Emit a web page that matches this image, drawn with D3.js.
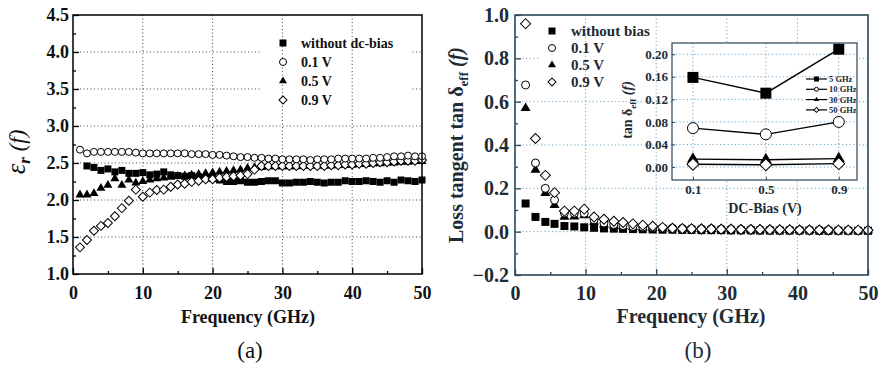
<!DOCTYPE html>
<html>
<head>
<meta charset="utf-8">
<script src="https://cdn.jsdelivr.net/npm/d3@7"></script>
<style>
  body { margin: 0; background: #fff; }
  svg { display: block; }
  text { font-family: "Liberation Serif", "Times New Roman", serif; }
</style>
</head>
<body>
<script>
// ---- data, panel (a): permittivity vs frequency ----
const freqA = [1,2,3,4,5,6,7,8,9,10,11,12,13,14,15,16,17,18,19,20,21,22,23,24,25,
  26,27,28,29,30,31,32,33,34,35,36,37,38,39,40,41,42,43,44,45,46,47,48,49,50]
const epsNoBias = [null,2.46,2.44,2.40,2.42,2.38,2.40,2.36,2.36,2.37,2.34,2.35,2.38,2.34,2.33,2.32,2.33,2.31,2.30,2.29,
  2.27,2.25,2.25,2.26,2.24,2.24,2.25,2.26,2.26,2.23,2.23,2.24,2.24,2.25,2.24,2.23,2.24,2.24,2.26,2.25,
  2.25,2.26,2.25,2.24,2.26,2.24,2.27,2.26,2.25,2.27]
const eps01 = [2.68,2.63,2.65,2.65,2.65,2.65,2.65,2.65,2.64,2.63,2.63,2.63,2.63,2.63,2.63,2.63,2.62,2.62,2.62,2.61,
  2.61,2.60,2.59,2.58,2.58,2.57,2.57,2.56,2.56,2.55,2.55,2.55,2.55,2.54,2.55,2.55,2.55,2.56,2.56,2.56,
  2.56,2.56,2.57,2.57,2.58,2.59,2.59,2.60,2.59,2.59]
const eps05 = [2.07,2.07,2.09,2.16,2.20,2.29,2.20,2.27,2.23,2.25,2.27,2.29,2.30,2.31,2.32,2.33,2.34,2.35,2.36,2.37,
  2.38,2.39,2.40,2.41,2.43,2.44,2.44,2.45,2.45,2.45,2.45,2.45,2.46,2.46,2.46,2.46,2.46,2.47,2.47,2.47,
  2.48,2.48,2.49,2.49,2.50,2.50,2.51,2.51,2.52,2.52]
const eps09 = [1.36,1.46,1.585,1.65,1.69,1.78,1.89,1.99,2.14,2.045,2.10,2.135,2.14,2.18,2.21,2.22,2.245,2.26,2.28,2.28,
  2.30,2.31,2.32,2.33,2.35,2.41,2.46,2.46,2.46,2.46,2.46,2.46,2.46,2.46,2.46,2.46,2.47,2.47,2.48,2.48,
  2.49,2.49,2.50,2.51,2.51,2.52,2.53,2.53,2.53,2.54]
const legendA = ["without dc-bias", "0.1 V", "0.5 V", "0.9 V"]
const ticksAX = [0, 10, 20, 30, 40, 50]
const ticksAY = [1.0, 1.5, 2.0, 2.5, 3.0, 3.5, 4.0, 4.5]

// ---- data, panel (b): loss tangent vs frequency ----
const freqB = [1.5,2.9,4.3,5.6,7.0,8.4,9.8,11.2,12.6,14.0,15.3,16.7,18.1,19.5,20.9,22.3,23.7,25.0,
  26.4,27.8,29.2,30.6,32.0,33.4,34.7,36.1,37.5,38.9,40.3,41.7,43.1,44.4,45.8,47.2,48.6,50.0]
const tanNoBias = [0.130,0.068,0.045,0.036,0.026,0.024,0.020,0.018,0.015,0.014,0.013,0.012,0.011,0.010,0.009,0.009,0.008,0.008,
  0.007,0.007,0.007,0.006,0.006,0.006,0.005,0.005,0.005,0.005,0.005,0.005,0.004,0.004,0.004,0.004,0.004,0.004]
const tan01 = [0.677,0.317,0.200,0.146,0.086,0.085,0.085,0.055,0.040,0.033,0.028,0.024,0.021,0.019,0.017,0.016,0.015,0.014,
  0.013,0.013,0.012,0.011,0.010,0.010,0.009,0.009,0.008,0.008,0.007,0.007,0.007,0.006,0.006,0.006,0.005,0.005]
const tan05 = [0.570,0.285,0.178,0.122,0.068,0.070,0.075,0.045,0.032,0.028,0.024,0.021,0.019,0.017,0.016,0.015,0.014,0.013,
  0.013,0.012,0.011,0.011,0.010,0.010,0.009,0.009,0.008,0.008,0.007,0.007,0.007,0.006,0.006,0.006,0.005,0.005]
const tan09 = [0.960,0.430,0.260,0.180,0.095,0.095,0.104,0.068,0.057,0.048,0.042,0.036,0.030,0.025,0.020,0.016,0.014,0.013,
  0.012,0.012,0.011,0.011,0.010,0.010,0.010,0.009,0.009,0.009,0.008,0.008,0.008,0.008,0.007,0.007,0.007,0.007]
const legendB = ["without bias", "0.1 V", "0.5 V", "0.9 V"]
const ticksBX = [0, 10, 20, 30, 40, 50]
const ticksBY = [-0.2, 0.0, 0.2, 0.4, 0.6, 0.8, 1.0]

// ---- data, inset: loss tangent vs dc bias ----
const biasV = [0.1, 0.5, 0.9]
const tan5G = [0.159, 0.131, 0.209]
const tan10G = [0.069, 0.058, 0.080]
const tan30G = [0.014, 0.013, 0.015]
const tan50G = [0.005, 0.004, 0.006]
const legendIn = ["5 GHz", "10 GHz", "30 GHz", "50 GHz"]
const ticksInY = [0.00, 0.04, 0.08, 0.12, 0.16, 0.20]

const svg = d3.select("body").append("svg")
  .attr("width", 887)
  .attr("height", 366)

// marker shapes, s = width in px
const markerTypes = ["square", "circle", "triangle", "diamond"]
const marker = (sel, type, s) => {
  if (type === "square") {
    sel.append("path").attr("d", d3.symbol(d3.symbolSquare, s * s)())
      .attr("fill", "#000")
  } else if (type === "circle") {
    sel.append("circle").attr("r", s / 2 - 0.5)
      .attr("fill", "#fff").attr("stroke", "#000").attr("stroke-width", 1)
  } else if (type === "triangle") {
    sel.append("path").attr("d", d3.symbol(d3.symbolTriangle, s * s * 0.433)())
      .attr("fill", "#000")
  } else {
    sel.append("path").attr("d", d3.symbol(d3.symbolSquare, s * s / 2)())
      .attr("transform", "rotate(45)")
      .attr("fill", "#fff").attr("stroke", "#000").attr("stroke-width", 1)
  }
}

const drawSeries = (g, xs, ys, x, y, type, s) => {
  xs.forEach((f, i) => {
    if (ys[i] === null) return
    const m = g.append("g").attr("transform", `translate(${x(f)},${y(ys[i])})`)
    marker(m, type, s)
  })
}

// =================== panel (a) ===================
{
  const x = d3.scaleLinear().domain([0, 50]).range([73, 422])
  const y = d3.scaleLinear().domain([1, 4.5]).range([274, 15])
  const g = svg.append("g")
  const gridC = "#444"

  // horizontal grid
  g.selectAll(".hg").data(ticksAY.slice(1, -1)).join("line")
    .attr("x1", 73).attr("x2", 422)
    .attr("y1", d => y(d)).attr("y2", d => y(d))
    .attr("stroke", gridC).attr("stroke-dasharray", "1,2.5")
  // legend background hides horizontal grid
  g.append("rect").attr("x", 262).attr("y", 33).attr("width", 150).attr("height", 76).attr("fill", "#fff")
  // vertical grid
  g.selectAll(".vg").data(ticksAX.slice(1, -1)).join("line")
    .attr("x1", d => x(d)).attr("x2", d => x(d))
    .attr("y1", 15).attr("y2", 274)
    .attr("stroke", gridC).attr("stroke-dasharray", "1,2.5")

  // no-bias first, then the others on top
  drawSeries(g, freqA, epsNoBias, x, y, "square", 7)
  drawSeries(g, freqA, eps05, x, y, "triangle", 9)
  drawSeries(g, freqA, eps09, x, y, "diamond", 9)
  drawSeries(g, freqA, eps01, x, y, "circle", 8)

  // axes
  const ax = g.append("g").attr("transform", "translate(0,274)")
  ax.call(d3.axisBottom(x).tickValues(ticksAX).tickSize(-6).tickPadding(12).tickFormat(d3.format("d")))
  ax.append("g").call(d3.axisBottom(x).tickValues([5, 15, 25, 35, 45]).tickSize(-3).tickFormat(""))
  const ay = g.append("g").attr("transform", "translate(73,0)")
  ay.call(d3.axisLeft(y).tickValues(ticksAY).tickSize(-6).tickPadding(4).tickFormat(d3.format(".1f")))
  ay.append("g").call(d3.axisLeft(y).tickValues([1.25, 1.75, 2.25, 2.75, 3.25, 3.75, 4.25]).tickSize(-3).tickFormat(""))
  g.selectAll(".domain").remove()
  g.selectAll(".tick line").attr("stroke", "#000").attr("stroke-width", 1.3)
  g.selectAll(".tick text").attr("font-size", 18).attr("font-weight", "bold")
    .attr("font-family", "Liberation Serif").attr("fill", "#111")
  g.append("rect").attr("x", 73).attr("y", 15).attr("width", 349).attr("height", 259)
    .attr("fill", "none").attr("stroke", "#000").attr("stroke-width", 1.5)

  // legend
  legendA.forEach((t, i) => {
    const ly = 43 + i * 19
    marker(g.append("g").attr("transform", `translate(283,${ly})`), markerTypes[i], i === 0 ? 7 : 8)
    g.append("text").attr("x", 301).attr("y", ly + 4.5).text(t)
      .attr("font-size", 14).attr("font-weight", "bold").attr("fill", "#111")
  })

  // titles
  g.append("text").attr("x", 248).attr("y", 323).attr("text-anchor", "middle")
    .attr("font-size", 18).attr("font-weight", "bold").attr("fill", "#111")
    .text("Frequency (GHz)")
  const yl = g.append("text").attr("transform", "translate(25,152) rotate(-90)")
    .attr("text-anchor", "middle").attr("font-style", "italic").attr("fill", "#111")
  yl.append("tspan").attr("font-size", 27).text("ε")
  yl.append("tspan").attr("font-size", 17).attr("font-weight", "bold").attr("dy", 5).text("r")
  yl.append("tspan").attr("dy", -5).attr("font-size", 23).text(" (f)")
  g.append("text").attr("x", 250).attr("y", 358).attr("text-anchor", "middle")
    .attr("font-size", 23).attr("fill", "#111").text("(a)")
}

// =================== panel (b) ===================
{
  const x = d3.scaleLinear().domain([0, 50]).range([515, 868])
  const y = d3.scaleLinear().domain([-0.2, 1.0]).range([275, 15])
  const g = svg.append("g")
  const axC = "#2b4757", gridC = "#6aa3c4", txtC = "#1d2b35"

  g.selectAll(".hg").data([0.0, 0.2, 0.4, 0.6, 0.8]).join("line")
    .attr("x1", 515).attr("x2", 868)
    .attr("y1", d => y(d)).attr("y2", d => y(d))
    .attr("stroke", gridC).attr("stroke-dasharray", "1.2,2.5")
  g.append("rect").attr("x", 540).attr("y", 20).attr("width", 132).attr("height", 72).attr("fill", "#fff")
  g.selectAll(".vg").data(ticksBX.slice(1, -1)).join("line")
    .attr("x1", d => x(d)).attr("x2", d => x(d))
    .attr("y1", 15).attr("y2", 275)
    .attr("stroke", gridC).attr("stroke-dasharray", "1.2,2.5")

  drawSeries(g, freqB, tanNoBias, x, y, "square", 8)
  drawSeries(g, freqB, tan05, x, y, "triangle", 10)
  drawSeries(g, freqB, tan01, x, y, "circle", 9)
  drawSeries(g, freqB, tan09, x, y, "diamond", 10)

  const ax = g.append("g").attr("transform", "translate(0,275)")
  ax.call(d3.axisBottom(x).tickValues(ticksBX).tickSize(-6).tickPadding(11).tickFormat(d3.format("d")))
  ax.append("g").call(d3.axisBottom(x).tickValues([5, 15, 25, 35, 45]).tickSize(-3).tickFormat(""))
  const ay = g.append("g").attr("transform", "translate(515,0)")
  ay.call(d3.axisLeft(y).tickValues(ticksBY).tickSize(-6).tickPadding(6).tickFormat(d3.format(".1f")))
  ay.append("g").call(d3.axisLeft(y).tickValues([-0.1, 0.1, 0.3, 0.5, 0.7, 0.9]).tickSize(-3).tickFormat(""))
  g.selectAll(".domain").remove()
  g.selectAll(".tick line").attr("stroke", axC).attr("stroke-width", 1.3)
  g.selectAll(".tick text").attr("font-size", 20).attr("font-weight", "bold")
    .attr("font-family", "Liberation Serif").attr("fill", txtC)
  g.append("rect").attr("x", 515).attr("y", 15).attr("width", 353).attr("height", 260)
    .attr("fill", "none").attr("stroke", axC).attr("stroke-width", 1.6)

  legendB.forEach((t, i) => {
    const ly = 31 + i * 17
    marker(g.append("g").attr("transform", `translate(552,${ly})`), markerTypes[i], i === 0 ? 7 : 8)
    g.append("text").attr("x", 571).attr("y", ly + 5).text(t)
      .attr("font-size", 15).attr("font-weight", "bold").attr("fill", txtC)
  })

  g.append("text").attr("x", 691).attr("y", 323).attr("text-anchor", "middle")
    .attr("font-size", 20).attr("font-weight", "bold").attr("fill", txtC)
    .text("Frequency (GHz)")
  const yl = g.append("text").attr("transform", "translate(463,145) rotate(-90)")
    .attr("text-anchor", "middle").attr("font-size", 20).attr("font-weight", "bold").attr("fill", txtC)
  yl.append("tspan").text("Loss tangent tan δ")
  yl.append("tspan").attr("font-size", 13).attr("dy", 5).text("eff")
  yl.append("tspan").attr("dy", -5).attr("font-style", "italic").text(" (f)")
  g.append("text").attr("x", 698).attr("y", 358).attr("text-anchor", "middle")
    .attr("font-size", 23).attr("fill", txtC).text("(b)")

  // ---------- inset ----------
  const xi = d3.scaleLinear().domain([-0.015, 1.0]).range([672, 857])
  const yi = d3.scaleLinear().domain([-0.023, 0.22]).range([180, 43])
  const gi = g.append("g")
  gi.append("rect").attr("x", 672).attr("y", 43).attr("width", 185).attr("height", 137).attr("fill", "#fff")
  gi.selectAll(".hg").data(ticksInY).join("line")
    .attr("x1", 672).attr("x2", 857)
    .attr("y1", d => yi(d)).attr("y2", d => yi(d))
    .attr("stroke", gridC).attr("stroke-dasharray", "1.2,2.5")
  gi.selectAll(".vg").data(biasV).join("line")
    .attr("x1", d => xi(d)).attr("x2", d => xi(d))
    .attr("y1", 43).attr("y2", 180)
    .attr("stroke", gridC).attr("stroke-dasharray", "1.2,2.5")

  const inSeries = [tan5G, tan10G, tan30G, tan50G]
  const line = d3.line().x((d, i) => xi(biasV[i])).y(d => yi(d))
  inSeries.forEach((s) => {
    gi.append("path").attr("d", line(s)).attr("fill", "none")
      .attr("stroke", "#000").attr("stroke-width", 1.4)
  })
  inSeries.forEach((s, k) => drawSeries(gi, biasV, s, xi, yi, markerTypes[k], k === 0 ? 11 : 12))

  const axi = gi.append("g").attr("transform", "translate(0,180)")
  axi.call(d3.axisBottom(xi).tickValues(biasV).tickSize(-3).tickPadding(5).tickFormat(d3.format(".1f")))
  const ayi = gi.append("g").attr("transform", "translate(672,0)")
  ayi.call(d3.axisLeft(yi).tickValues(ticksInY).tickSize(-3).tickPadding(4).tickFormat(d3.format(".2f")))
  gi.selectAll(".domain").remove()
  gi.selectAll(".tick line").attr("stroke", axC)
  gi.selectAll(".tick text").attr("font-size", 13).attr("font-weight", "bold")
    .attr("font-family", "Liberation Serif").attr("fill", txtC)
  gi.append("rect").attr("x", 672).attr("y", 43).attr("width", 185).attr("height", 137)
    .attr("fill", "none").attr("stroke", axC).attr("stroke-width", 1.2)

  legendIn.forEach((t, k) => {
    const ly = 79 + k * 10.3
    gi.append("line").attr("x1", 806).attr("x2", 827).attr("y1", ly).attr("y2", ly)
      .attr("stroke", "#000").attr("stroke-width", 1.2)
    marker(gi.append("g").attr("transform", `translate(816.5,${ly})`), markerTypes[k], 5)
    gi.append("text").attr("x", 829).attr("y", ly + 3).text(t)
      .attr("font-size", 8.5).attr("font-weight", "bold").attr("fill", txtC)
  })

  gi.append("text").attr("x", 765).attr("y", 213).attr("text-anchor", "middle")
    .attr("font-size", 14).attr("font-weight", "bold").attr("fill", txtC).text("DC-Bias (V)")
  const yli = gi.append("text").attr("transform", "translate(632,110) rotate(-90)")
    .attr("text-anchor", "middle").attr("font-size", 14).attr("font-weight", "bold").attr("fill", txtC)
  yli.append("tspan").text("tan δ")
  yli.append("tspan").attr("font-size", 9).attr("dy", 4).text("eff")
  yli.append("tspan").attr("dy", -4).attr("font-style", "italic").text(" (f)")
}
</script>
</body>
</html>
